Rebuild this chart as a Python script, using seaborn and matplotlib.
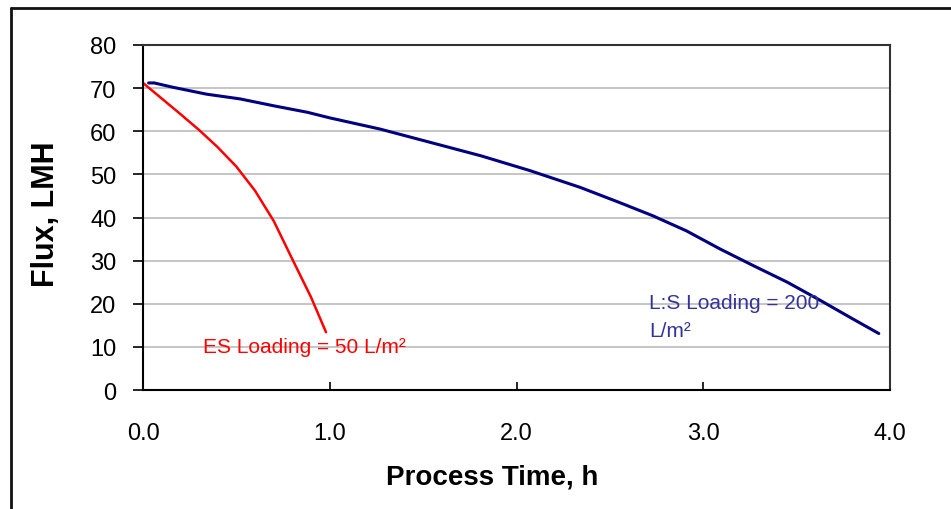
import matplotlib
matplotlib.use("Agg")
import matplotlib.pyplot as plt
from matplotlib.lines import Line2D
import seaborn as sns
import pandas as pd

# ---- data ----
ls_time = [0.03, 0.06, 0.16, 0.34, 0.52, 0.70, 0.88, 1.00, 1.27, 1.54, 1.81,
           2.07, 2.34, 2.55, 2.73, 2.91, 3.09, 3.27, 3.45, 3.63, 3.80, 3.94]
ls_flux = [71.2, 71.2, 70.2, 68.6, 67.5, 65.9, 64.4, 63.1, 60.5, 57.4, 54.3,
           50.9, 47.0, 43.5, 40.4, 36.9, 32.7, 28.8, 25.0, 20.7, 16.5, 13.1]

es_time = [0.00, 0.10, 0.20, 0.30, 0.40, 0.50, 0.60, 0.70, 0.80, 0.90, 0.98]
es_flux = [71.2, 67.6, 64.0, 60.3, 56.3, 51.8, 46.2, 39.2, 30.3, 21.5, 13.4]

x_ticks = [0, 1, 2, 3, 4]
x_ticklabels = ["0.0", "1.0", "2.0", "3.0", "4.0"]
y_ticks = [0, 10, 20, 30, 40, 50, 60, 70, 80]

x_label = "Process Time, h"
y_label = "Flux, LMH"
es_label = "ES Loading = 50 L/m²"
ls_label_1 = "L:S Loading = 200"
ls_label_2 = "L/m²"

df = pd.concat([
    pd.DataFrame({"time": ls_time, "flux": ls_flux, "series": "LS"}),
    pd.DataFrame({"time": es_time, "flux": es_flux, "series": "ES"}),
])

sns.set_theme(style="white")
plt.rcParams["font.family"] = ["Liberation Sans", "DejaVu Sans"]

fig = plt.figure(figsize=(9.51, 5.10), dpi=100)
ax = fig.add_axes([143 / 951, 1 - 391 / 510, (890 - 143) / 951, (391 - 46) / 510])

sns.lineplot(data=df, x="time", y="flux", hue="series",
             palette={"LS": "#000080", "ES": "#FF0000"},
             hue_order=["LS", "ES"], sort=False, estimator=None,
             linewidth=2.2, legend=False, ax=ax)
for ln in ax.lines:
    if ln.get_color().lower() in ("#ff0000", "red"):
        ln.set_linewidth(1.8)

ax.set_xlim(0, 4)
ax.set_ylim(0, 80)
ax.set_xticks(x_ticks)
ax.set_xticklabels(x_ticklabels)
ax.set_yticks(y_ticks)

ax.yaxis.grid(True, color="#c0c0c0", linewidth=1.3)
ax.xaxis.grid(False)
ax.set_axisbelow(True)

for s in ["left", "bottom"]:
    ax.spines[s].set_color("black")
    ax.spines[s].set_linewidth(1.5)
for s in ["top", "right"]:
    ax.spines[s].set_visible(True)
    ax.spines[s].set_color("#333333")
    ax.spines[s].set_linewidth(1.5)

ax.tick_params(axis="y", direction="out", length=7, width=1.2, color="black",
               labelsize=17, pad=12, left=True, labelcolor="black")
ax.tick_params(axis="x", direction="in", length=6, width=1.2, color="black",
               labelsize=17, pad=23, bottom=True, labelcolor="black")

ax.set_xlabel("")
ax.set_ylabel("")

fig.text(492 / 951, 1 - 478 / 510, x_label, ha="center", va="center",
         fontsize=20, fontweight="bold", color="black")
fig.text(46 / 951, 1 - 214 / 510, y_label, ha="center", va="center",
         rotation=90, fontsize=22, fontweight="bold", color="black")

ax.text(0.321, 10.0, es_label, color="#FF0000", fontsize=15,
        ha="left", va="center")
ax.text(2.71, 20.2, ls_label_1, color="#333399", fontsize=15,
        ha="left", va="center")
ax.text(2.71, 13.7, ls_label_2, color="#333399", fontsize=15,
        ha="left", va="center")

# outer chart-area frame (left and top edges visible in reference)
fig.add_artist(Line2D([11 / 951, 11 / 951], [0, 1 - 9 / 510],
                      transform=fig.transFigure, color="#111111", linewidth=2))
fig.add_artist(Line2D([11 / 951, 1], [1 - 9 / 510, 1 - 9 / 510],
                      transform=fig.transFigure, color="#111111", linewidth=2))

fig.savefig("out.png", dpi=100)
